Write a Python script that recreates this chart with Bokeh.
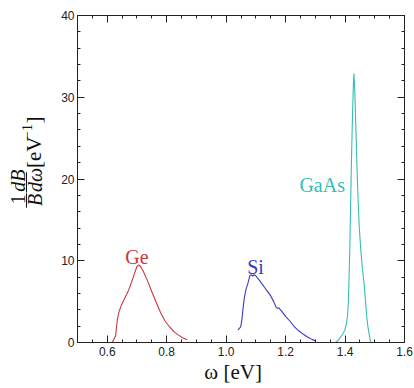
import numpy as np
from bokeh.plotting import figure
from bokeh.models import Range1d, LinearAxis, FixedTicker, Label, PrintfTickFormatter, CustomJSTickFormatter
from bokeh.layouts import row
from bokeh.embed import file_html
from bokeh.resources import INLINE
from bokeh.core.properties import value

# ---------------- data ----------------
ge_omega = [0.617, 0.628, 0.634, 0.640, 0.648, 0.660, 0.672, 0.684, 0.693, 0.700,
            0.706, 0.712, 0.720, 0.735, 0.750, 0.765, 0.780, 0.795, 0.810, 0.825,
            0.840, 0.855, 0.869]
ge_rate = [0.0, 0.8, 2.8, 3.8, 4.6, 5.5, 6.4, 7.6, 8.6, 9.3,
           9.5, 9.3, 8.8, 7.6, 6.2, 4.9, 3.6, 2.6, 1.9, 1.3,
           0.9, 0.55, 0.33]

si_omega = [1.040, 1.049, 1.053, 1.057, 1.061, 1.066, 1.073, 1.080, 1.085, 1.090,
            1.094, 1.099, 1.105, 1.112, 1.120, 1.130, 1.140, 1.150, 1.160, 1.167,
            1.172, 1.178, 1.185, 1.192, 1.200, 1.215, 1.230, 1.245, 1.260, 1.275,
            1.290, 1.301]
si_rate = [1.55, 1.9, 2.8, 4.2, 5.4, 6.4, 7.2, 8.2, 8.3, 8.1,
           8.3, 8.2, 7.9, 7.6, 7.2, 6.7, 6.2, 5.7, 5.0, 4.4,
           4.2, 4.2, 3.9, 3.6, 3.2, 2.6, 1.9, 1.4, 1.0, 0.65,
           0.35, 0.2]

gaas_omega = [1.369, 1.378, 1.385, 1.393, 1.399, 1.404, 1.408, 1.411, 1.413, 1.416,
              1.419, 1.422, 1.425, 1.428, 1.430, 1.433, 1.437, 1.441, 1.444, 1.448,
              1.453, 1.458, 1.464, 1.469, 1.473, 1.477, 1.481, 1.484, 1.487]
gaas_rate = [0.04, 0.3, 0.65, 1.1, 1.5, 2.2, 3.1, 4.8, 7.2, 11.5,
             17.4, 23.0, 27.6, 31.5, 32.9, 30.5, 25.5, 20.5, 17.4, 14.0,
             11.3, 9.2, 7.2, 5.0, 3.1, 1.9, 1.06, 0.4, 0.04]

series_names = ["Ge", "Si", "GaAs"]
series_colors = ["#c8383c", "#3a3ac0", "#35bdb6"]

x_major = [0.6, 0.8, 1.0, 1.2, 1.4, 1.6]
x_minor = [round(v, 2) for v in np.arange(0.5, 1.6001, 0.05)]
y_major = [0, 10, 20, 30, 40]
y_minor = list(range(0, 41, 2))

x_title = "ω [eV]"

# ---------------- layout constants ----------------
W, H = 414, 388
LEFT_W = 55
AX_COL = "#222222"
TXT_COL = "#111111"
SERIF = "Liberation Serif"
SANS = "Liberation Sans"

main = figure(width=W - LEFT_W, height=H,
              x_range=Range1d(0.5, 1.6), y_range=Range1d(0, 40),
              output_backend="svg", toolbar_location=None,
              min_border_left=22, min_border_right=10,
              min_border_top=15, min_border_bottom=46)
main.grid.visible = False
main.outline_line_color = AX_COL
main.outline_line_width = 1
main.background_fill_color = "white"
main.border_fill_color = "white"

top_ax = LinearAxis()
right_ax = LinearAxis()
main.add_layout(top_ax, "above")
main.add_layout(right_ax, "right")

def style_axis(ax, ticks, minor, labels=True, fmt="%.1f"):
    ax.ticker = FixedTicker(ticks=ticks, minor_ticks=minor)
    ax.axis_line_color = AX_COL
    ax.major_tick_line_color = AX_COL
    ax.minor_tick_line_color = AX_COL
    ax.major_tick_in = 7
    ax.major_tick_out = 0
    ax.minor_tick_in = 3
    ax.minor_tick_out = 0
    if labels:
        ax.formatter = PrintfTickFormatter(format=fmt)
        ax.major_label_text_font = SANS
        ax.major_label_text_font_size = "12px"
        ax.major_label_text_color = "#222222"
    else:
        ax.formatter = CustomJSTickFormatter(code="return ''")
        ax.major_label_text_color = None
        ax.major_label_text_font_size = "2px"
        ax.major_label_standoff = 0
        ax.axis_label_standoff = 0

xb = main.below[0]
yl = main.left[0]
style_axis(xb, x_major, x_minor, True, "%.1f")
xb.major_label_standoff = 4
# x-axis title; trailing no-break spaces shift its centre a little left, as in the reference
xb.axis_label = x_title + "\u00a0\u00a0\u00a0"
xb.axis_label_text_font = SERIF
xb.axis_label_text_font_size = "21px"
xb.axis_label_text_font_style = "normal"
xb.axis_label_text_color = TXT_COL
xb.axis_label_standoff = 1
style_axis(yl, y_major, y_minor, True, "%d")
yl.major_label_standoff = 3
style_axis(top_ax, x_major, x_minor, False)
style_axis(right_ax, y_major, y_minor, False)

for xs, ys, c in zip([ge_omega, si_omega, gaas_omega],
                     [ge_rate, si_rate, gaas_rate], series_colors):
    main.line(xs, ys, line_color=c, line_width=1.1)

label_pos = [(0.700, 10.4), (1.099, 9.2), (1.323, 19.3)]
for name, c, (lx, ly) in zip(series_names, series_colors, label_pos):
    main.add_layout(Label(x=lx, y=ly, text=name, text_color=c,
                          text_font=SERIF, text_font_size="20px",
                          text_align="center", text_baseline="alphabetic"))

# ---------------- y-axis label strip (fraction, rotated) ----------------
left = figure(width=LEFT_W, height=H, x_range=Range1d(0, LEFT_W), y_range=Range1d(0, H),
              output_backend="svg", toolbar_location=None,
              x_axis_location=None, y_axis_location=None,
              min_border=0, min_border_left=0, min_border_right=0,
              min_border_top=0, min_border_bottom=0)
left.grid.visible = False
left.outline_line_color = None
left.background_fill_color = "white"
left.border_fill_color = "white"

ang = np.pi / 2
def ltext(fig, x, py, txt, size, style="normal"):
    # rotated text, read bottom-to-top, starting at screen row py
    fig.text(x=[x], y=[H - py], text=[txt], angle=ang,
             text_font=value(SERIF), text_font_size=size, text_font_style=style,
             text_align="left", text_baseline="alphabetic", text_color=TXT_COL)

ltext(left, 17, 224, "1", "20px", "normal")
ltext(left, 34.5, 226, "B", "20px", "italic")
ltext(left, 17, 209, "dB", "20px", "italic")
ltext(left, 34.5, 209.5, "dω", "20px", "italic")
left.segment(x0=[26, 26], y0=[H - 211, H - 186], x1=[26, 26], y1=[H - 228, H - 210],
             line_color=TXT_COL, line_width=1)
ltext(left, 33, 181, "[eV", "21px", "normal")
ltext(left, 26, 146.5, "−1", "14px", "normal")
ltext(left, 33, 128, "]", "21px", "normal")

layout = row(left, main, spacing=0)

with open("out.html", "w") as f:
    f.write(file_html(layout, INLINE))
